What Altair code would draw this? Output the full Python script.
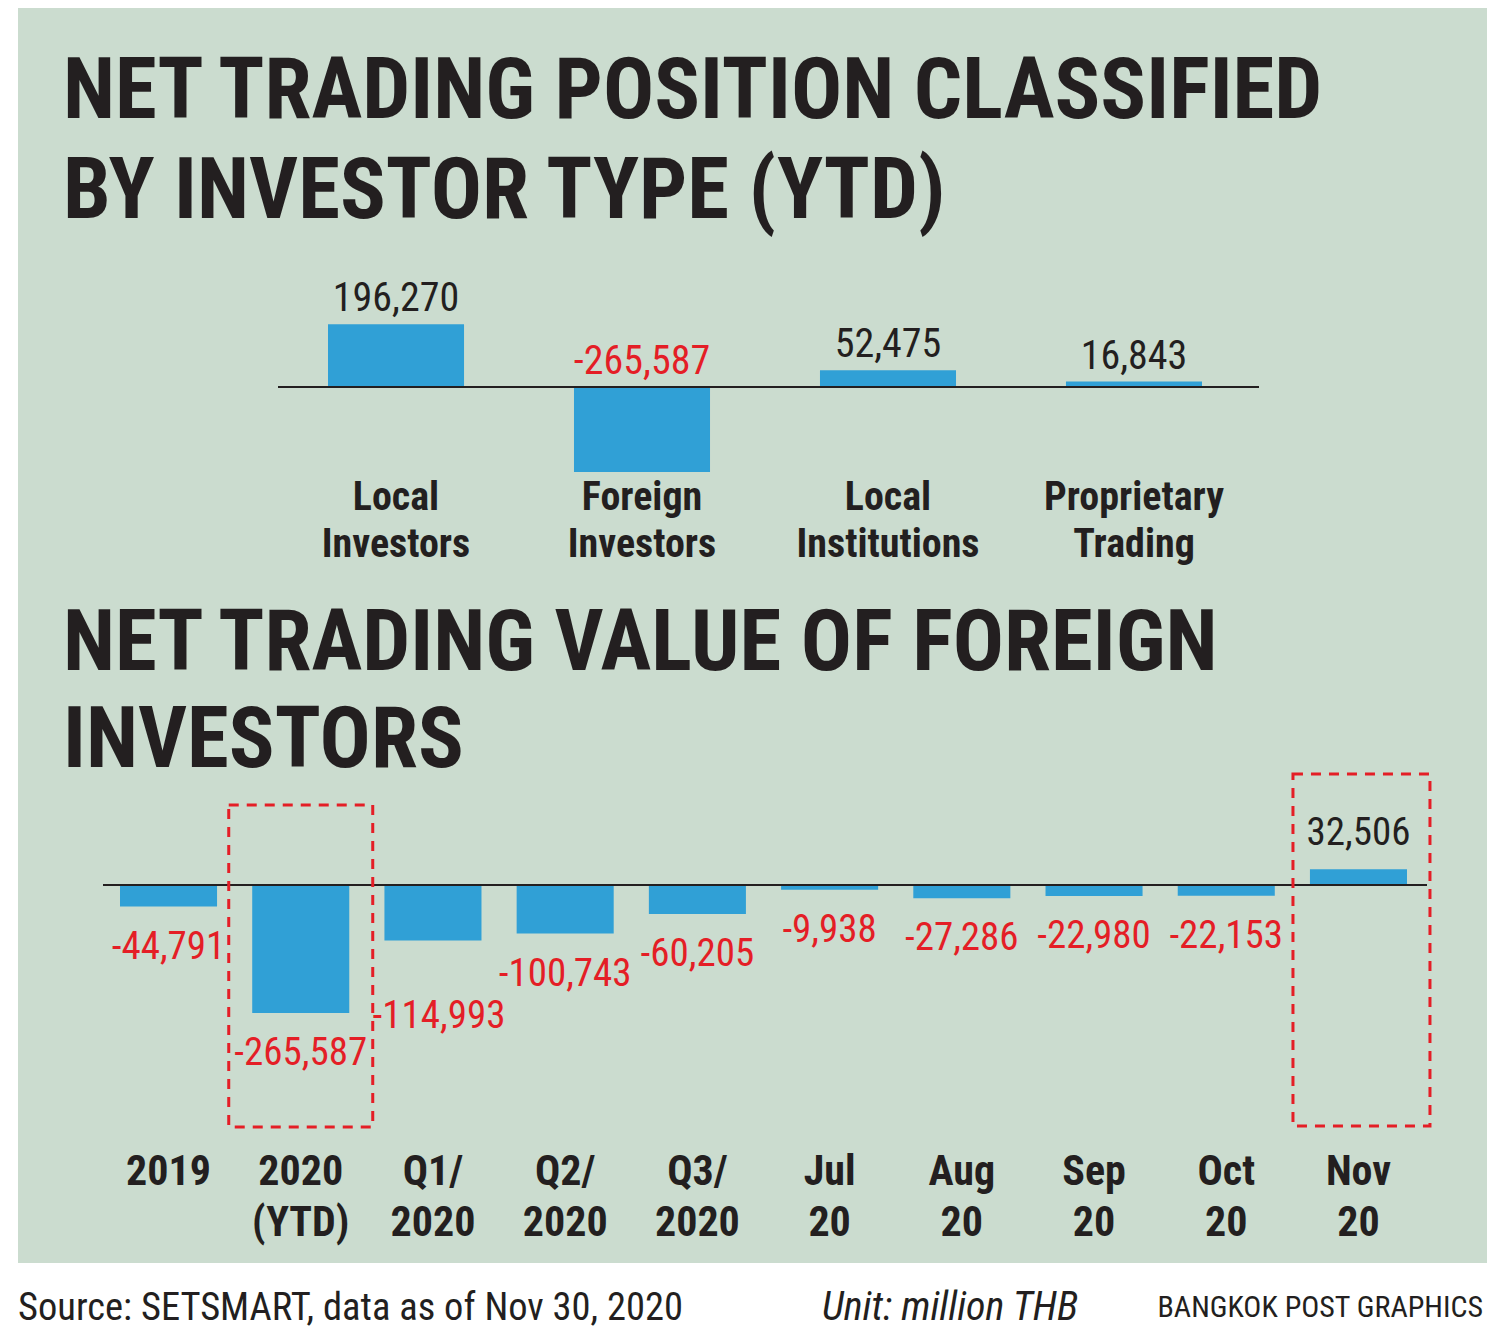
import altair as alt
import pandas as pd

# ---- data ----
top_cats = ["Local\nInvestors", "Foreign\nInvestors", "Local\nInstitutions", "Proprietary\nTrading"]
top_vals = [196270, -265587, 52475, 16843]

bot_cats = ["2019", "2020\n(YTD)", "Q1/\n2020", "Q2/\n2020", "Q3/\n2020",
            "Jul\n20", "Aug\n20", "Sep\n20", "Oct\n20", "Nov\n20"]
bot_vals = [-44791, -265587, -114993, -100743, -60205, -9938, -27286, -22980, -22153, 32506]

title1 = ["NET TRADING POSITION CLASSIFIED", "BY INVESTOR TYPE (YTD)"]
title2 = ["NET TRADING VALUE OF FOREIGN", "INVESTORS"]
source_text = "Source: SETSMART, data as of Nov 30, 2020"
unit_text = "Unit: million THB"
credit_text = "BANGKOK POST GRAPHICS"

# ---- styles ----
GREEN = "#cbdccf"
BLUE = "#30a0d6"
RED = "#e41e26"
INK = "#231f20"
FONT = "'Roboto Condensed', Roboto, sans-serif"

top_df = pd.DataFrame({"cat": top_cats, "v": top_vals})
top_df["lv"] = top_df["v"].clip(lower=0)
top_df["lab"] = [f"{v:,}" for v in top_vals]
bot_df = pd.DataFrame({"cat": bot_cats, "v": bot_vals})
bot_df["lab"] = [f"{v:,}" for v in bot_vals]
one = pd.DataFrame({"a": [0]})

# ---- scales ----
top_x = alt.Scale(domain=top_cats, range=[320, 1194], paddingInner=0.447, paddingOuter=0)
top_y = alt.Scale(domain=[-300000, 300000], range=[475, 283])
bot_x = alt.Scale(domain=bot_cats, range=[112, 1399], paddingInner=0.266, paddingOuter=0)
bot_y = alt.Scale(domain=[-300000, 300000], range=[1021.6, 732.4])

# ---- background panel ----
bg = alt.Chart(one).mark_rect(color=GREEN).encode(
    x=alt.value(10), x2=alt.value(1479), y=alt.value(-8), y2=alt.value(1255)
)

# ---- top chart ----
tx = alt.X("cat:N", scale=top_x, axis=None, sort=top_cats)
top_bars = alt.Chart(top_df).mark_bar(color=BLUE).encode(
    x=tx, y=alt.Y("v:Q", scale=top_y, axis=None)
)
top_rule = alt.Chart(one).mark_rule(color=INK, strokeWidth=2).encode(
    y=alt.Y(datum=0, scale=top_y, axis=None), x=alt.value(270), x2=alt.value(1251)
)
top_labels = alt.Chart(top_df).mark_text(
    font=FONT, fontSize=40, baseline="alphabetic", dy=-13
).encode(
    x=tx,
    y=alt.Y("lv:Q", scale=top_y, axis=None),
    text="lab:N",
    color=alt.condition("datum.v < 0", alt.value(RED), alt.value(INK)),
)
top_cat_labels = alt.Chart(top_df).mark_text(
    font=FONT, fontSize=40, fontWeight="bold", baseline="alphabetic",
    lineBreak="\n", lineHeight=47, color=INK
).encode(x=tx, y=alt.value(502), text="cat:N")
top_layer = alt.layer(top_bars, top_rule, top_labels, top_cat_labels)

# ---- bottom chart ----
bx = alt.X("cat:N", scale=bot_x, axis=None, sort=bot_cats)
Q1 = "datum.cat == 'Q1/\\n2020'"
bot_bars = alt.Chart(bot_df).mark_bar(color=BLUE).encode(
    x=bx, y=alt.Y("v:Q", scale=bot_y, axis=None)
)
bot_rule = alt.Chart(one).mark_rule(color=INK, strokeWidth=2).encode(
    y=alt.Y(datum=0, scale=bot_y, axis=None), x=alt.value(95), x2=alt.value(1419)
)
bot_neg = alt.Chart(bot_df).transform_filter(f"datum.v < 0 && !({Q1})").mark_text(
    font=FONT, fontSize=39, baseline="alphabetic", dy=52, color=RED
).encode(x=bx, y=alt.Y("v:Q", scale=bot_y, axis=None), text="lab:N")
bot_q1 = alt.Chart(bot_df).transform_filter(Q1).mark_text(
    font=FONT, fontSize=39, baseline="alphabetic", dy=88, dx=6, color=RED
).encode(x=bx, y=alt.Y("v:Q", scale=bot_y, axis=None), text="lab:N")
bot_pos = alt.Chart(bot_df).transform_filter("datum.v >= 0").mark_text(
    font=FONT, fontSize=39, baseline="alphabetic", dy=-24, color=INK
).encode(x=bx, y=alt.Y("v:Q", scale=bot_y, axis=None), text="lab:N")
bot_cat_labels = alt.Chart(bot_df).mark_text(
    font=FONT, fontSize=42, fontWeight="bold", baseline="alphabetic",
    lineBreak="\n", lineHeight=51, color=INK
).encode(x=bx, y=alt.value(1177), text="cat:N")
box1 = alt.Chart(bot_df).transform_filter("datum.cat == '2020\\n(YTD)'").mark_bar(
    width=144, fillOpacity=0, stroke=RED, strokeWidth=3, strokeDash=[10, 8]
).encode(x=bx, y=alt.value(797), y2=alt.value(1119))
box2 = alt.Chart(bot_df).transform_filter("datum.cat == 'Nov\\n20'").mark_bar(
    width=137, fillOpacity=0, stroke=RED, strokeWidth=3, strokeDash=[10, 8], xOffset=3
).encode(x=bx, y=alt.value(766), y2=alt.value(1118))
bot_layer = alt.layer(bot_bars, bot_rule, bot_neg, bot_q1, bot_pos, bot_cat_labels, box1, box2)

# ---- titles & footer ----
def title_text(txt, y):
    return alt.Chart(one).mark_text(
        font=FONT, fontSize=85, fontWeight="bold", align="left", baseline="alphabetic", color=INK
    ).encode(x=alt.value(55), y=alt.value(y), text=alt.value(txt))

titles = [
    title_text(title1[0], 110), title_text(title1[1], 210),
    title_text(title2[0], 662), title_text(title2[1], 759),
]
src = alt.Chart(one).mark_text(
    font=FONT, fontSize=38.5, align="left", baseline="alphabetic", color=INK
).encode(x=alt.value(10), y=alt.value(1312), text=alt.value(source_text))
unit = alt.Chart(one).mark_text(
    font=FONT, fontSize=40, fontStyle="italic", align="center", baseline="alphabetic", color=INK
).encode(x=alt.value(942), y=alt.value(1312), text=alt.value(unit_text))
credit = alt.Chart(one).mark_text(
    font=FONT, fontSize=30, align="right", baseline="alphabetic", color=INK
).encode(x=alt.value(1475), y=alt.value(1309), text=alt.value(credit_text))

chart = alt.layer(
    bg, top_layer, bot_layer, *titles, src, unit, credit
).resolve_scale(x="independent", y="independent", color="independent").properties(
    width=1484, height=1324, padding=0, autosize=alt.AutoSizeParams(type="none"),
    background="white",
).configure_view(stroke=None)

chart.save("out.html", embed_options={"renderer": "svg", "actions": False})
